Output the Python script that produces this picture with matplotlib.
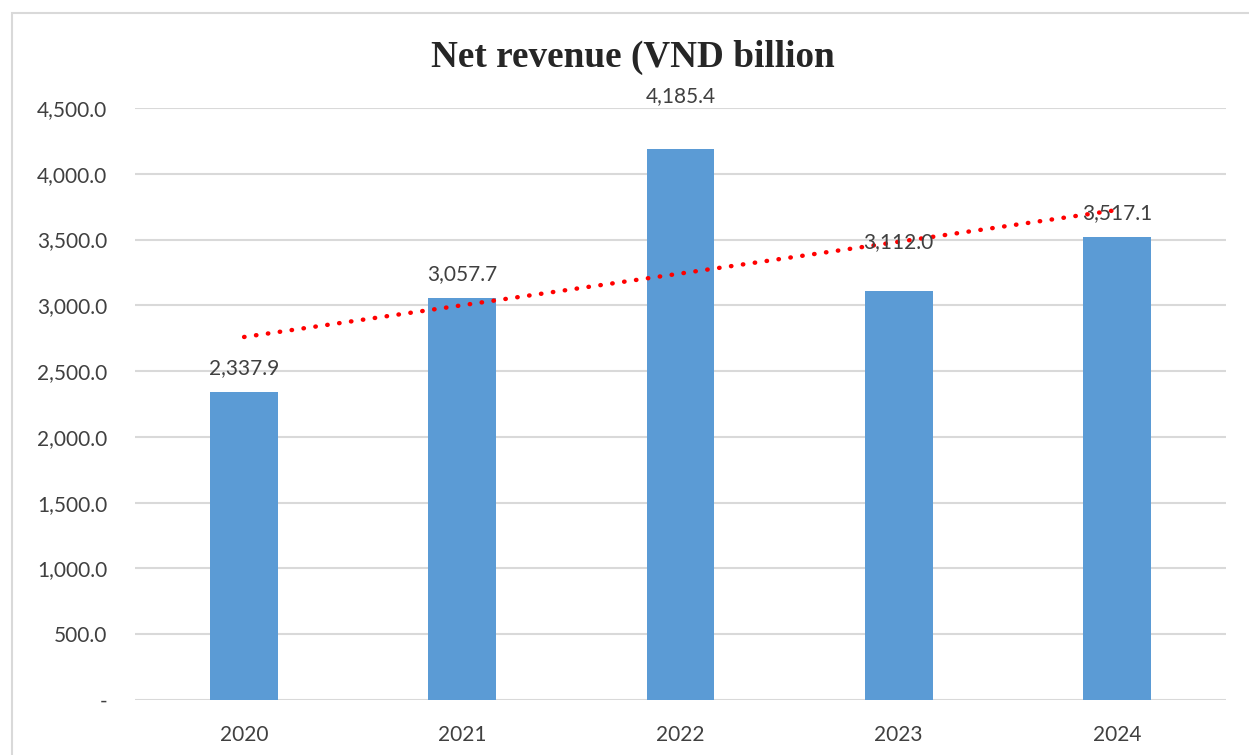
import numpy as np
import matplotlib.pyplot as plt
from matplotlib.patches import Rectangle
from matplotlib.ticker import FuncFormatter

# Doanh thu thuần theo năm
years = ['2020', '2021', '2022', '2023', '2024']
revenue = [2337.9, 3057.7, 4185.4, 3112.0, 3517.1]
yticks = [0, 500, 1000, 1500, 2000, 2500, 3000, 3500, 4000, 4500]

# khoảng cách nhãn so với đỉnh cột (điểm)
label_pad = [10, 10, 31, 28, 10]

bar_color = '#5B9BD5'
text_color = '#404040'
grid_color = '#D9D9D9'

fig = plt.figure(figsize=(12.49, 7.55), dpi=100)
ax = fig.add_axes([135 / 1249, 55 / 755, 1091 / 1249, 592 / 755])

x = np.arange(len(years))
ax.bar(x, revenue, width=0.31, color=bar_color, zorder=3)

# nhãn giá trị trên đầu cột
for xi, v, p in zip(x, revenue, label_pad):
    ax.annotate(f'{v:,.1f}', (xi, v), xytext=(0, p), textcoords='offset points',
                ha='center', va='bottom', fontsize=15, color=text_color,
                family='Lato', zorder=5, annotation_clip=False)

# đường xu hướng tuyến tính
k, b = np.polyfit(x, revenue, 1)
ax.plot(x, k * x + b, color='#FF0000', linestyle=(0, (0.1, 2.6)), linewidth=3.2,
        dash_capstyle='round', zorder=4)

ax.set_xlim(-0.5, 4.5)
ax.set_ylim(0, 4500)
ax.set_xticks(x)
ax.set_xticklabels(years)
ax.set_yticks(yticks)
ax.yaxis.set_major_formatter(FuncFormatter(lambda v, p: '-' if v == 0 else f'{v:,.1f}'))
ax.tick_params(length=0, labelsize=15, labelcolor=text_color, pad=20)
ax.tick_params(axis='x', pad=18)
for lbl in ax.get_xticklabels() + ax.get_yticklabels():
    lbl.set_family('Lato')
ax.grid(axis='y', color=grid_color, linewidth=1.5, zorder=0)
for s in ax.spines.values():
    s.set_visible(False)

fig.text(633 / 1249, 1 - 67 / 755, 'Net revenue (VND billion', ha='center', va='baseline',
         fontsize=26.8, fontweight='bold', family='Liberation Serif', color='#262626')

# khung viền biểu đồ
fig.patches.append(Rectangle((12 / 1249, -0.05), 1.1, 1.05 - 13 / 755,
                             transform=fig.transFigure, fill=False,
                             edgecolor='#D9D9D9', linewidth=1.5))

fig.savefig('out.png', dpi=100)
plt.close(fig)
